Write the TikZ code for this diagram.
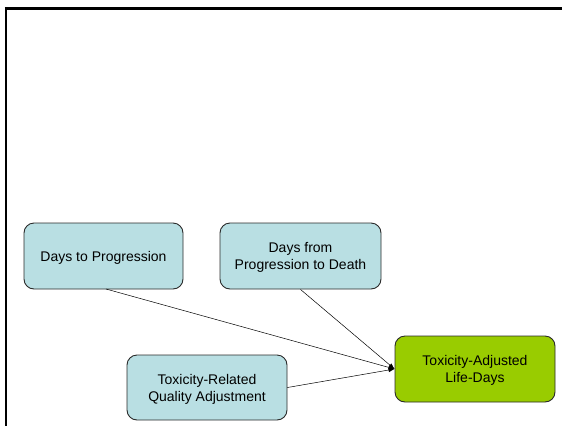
\documentclass[tikz,border=0pt]{standalone}
\usepackage{fontspec}
\setmainfont{Liberation Sans}
\usetikzlibrary{arrows.meta}
\definecolor{boxblue}{HTML}{B9DFE3}
\definecolor{boxgreen}{HTML}{99CC00}
\definecolor{edgegray}{HTML}{2A2A2A}
\begin{document}
\begin{tikzpicture}[x=1pt,y=-1pt,
  box/.style={draw=edgegray, line width=0.9pt, rounded corners=10pt,
    minimum width=#1, align=center, inner sep=0pt,
    font=\fontsize{14}{17}\selectfont},
  box/.default=160pt,
  lbl/.style={align=center, inner sep=0pt, font=\fontsize{14}{17}\selectfont},
  link/.style={draw=black, line width=0.5pt, -{Latex[length=6pt,width=4.5pt]}}]
  \useasboundingbox (0,0) rectangle (562,426);
  % frame along the top and left edges
  \draw[gray!70, line width=1pt] (7,9.8) -- (562,9.8);
  \draw[black, line width=2.5pt] (4.8,8.3) -- (562,8.3);
  \draw[black, line width=2.5pt] (6.2,7) -- (6.2,426);
  % boxes
  \node[box=159pt, fill=boxblue, minimum height=66pt] (dtp) at (103.5,256) {};
  \node[box=161pt, fill=boxblue, minimum height=66pt] (dpd) at (300.5,256) {};
  \node[box=160pt, fill=boxblue, minimum height=65pt] (tqa) at (207,387.5) {};
  \node[box=160pt, fill=boxgreen, minimum height=66pt] (tal) at (475,369) {};
  % box texts, set a little below the geometric centre
  \node[lbl] (dtpt) at ([yshift=-1.5pt]dtp.center) {Days to Progression};
  \node[lbl] (dpdt) at ([yshift=-1.5pt]dpd.center) {Days from\\Progression to Death};
  \node[lbl] (tqat) at ([yshift=-1.5pt]tqa.center) {Toxicity-Related\\Quality Adjustment};
  \node[lbl] (talt) at ([yshift=-1.5pt]tal.center) {Toxicity-Adjusted\\Life-Days};
  % connectors into the result
  \draw[link] (106,289) -- (tal.west);
  \draw[link] (dpd.south) -- (tal.west);
  \draw[link] (tqa.east) -- (tal.west);
\end{tikzpicture}
\end{document}
